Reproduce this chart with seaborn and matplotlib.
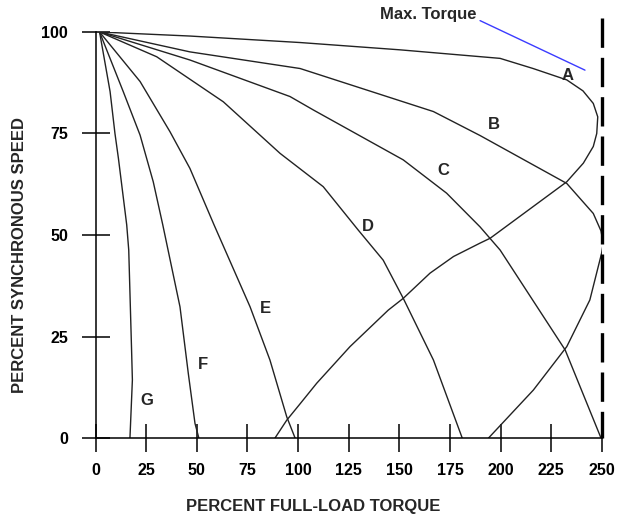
import matplotlib
matplotlib.use("Agg")
import matplotlib.pyplot as plt
import seaborn as sns
import pandas as pd

# ---- data (percent full-load torque vs percent synchronous speed)
torque_A = [2, 46.6, 101, 150.4, 199.7, 216, 232.6, 240.6, 245.7, 247.9, 247.4, 245.7, 240.8, 232.6, 194.8, 189.8, 176.7, 165.1, 151.9, 144.5, 125.6, 109.2, 101.1, 94.4, 88.6]
speed_A = [100, 99.0, 97.4, 95.6, 93.5, 91.0, 88.2, 85.5, 82.4, 79.1, 75.0, 71.8, 67.7, 63.1, 49.2, 48.0, 44.7, 40.6, 34.4, 31.5, 22.5, 13.5, 8.5, 4.4, 0]

torque_B = [2, 46.6, 101, 166.8, 189.8, 232.6, 245.7, 249.5, 250.6, 249.8, 244, 232.6, 216.1, 194]
speed_B = [100, 95.1, 91.0, 80.4, 74.5, 62.7, 55.3, 51.0, 48.0, 45.5, 34.0, 22.5, 11.8, 0]

torque_C = [2, 46.6, 96, 107.5, 151.9, 173.3, 189.8, 199.7, 231.8, 249.5]
speed_C = [100, 93.1, 84.1, 80.8, 68.5, 60.3, 52.0, 46.3, 21.7, 0]

torque_D = [2, 30.2, 63.1, 91.1, 112.4, 129.7, 142, 151.9, 166.8, 181]
speed_D = [100, 93.9, 82.8, 70.1, 61.9, 51.2, 43.8, 34.4, 19.2, 0]

torque_E = [2, 22, 36.8, 46.6, 58.5, 76.3, 86.1, 94.4, 98.5]
speed_E = [100, 87.8, 75.4, 66.4, 52.5, 32.3, 19.2, 5.2, 0]

torque_F = [2, 13.7, 22, 28.5, 33.2, 41.7, 45.8, 49.1, 51]
speed_F = [100, 85.3, 74.6, 63.1, 52.5, 32.3, 15.9, 3.6, 0]

torque_G = [2, 7.2, 9.6, 11.3, 15.4, 16.4, 17.8, 18.2, 17.0]
speed_G = [100, 85.3, 75.0, 68.9, 52.5, 46.3, 21.7, 14.3, 0]

curve_names = ["A", "B", "C", "D", "E", "F", "G"]
label_torque = [233.1, 196.8, 171.7, 134.2, 83.7, 52.9, 25.3]
label_speed = [89.4, 77.1, 65.8, 52.2, 31.9, 18.2, 9.2]

x_ticks = [0, 25, 50, 75, 100, 125, 150, 175, 200, 225, 250]
y_ticks = [0, 25, 50, 75, 100]
max_torque = 250
annot_text = "Max. Torque"

# ---- build long table
curves = {
    "A": (torque_A, speed_A), "B": (torque_B, speed_B), "C": (torque_C, speed_C),
    "D": (torque_D, speed_D), "E": (torque_E, speed_E), "F": (torque_F, speed_F),
    "G": (torque_G, speed_G),
}
rows = []
for name, (tx, sy) in curves.items():
    for i, (t, s) in enumerate(zip(tx, sy)):
        rows.append({"curve": name, "order": i, "torque": t, "speed": s})
df = pd.DataFrame(rows)

sns.set_style("white")
plt.rcParams["font.family"] = ["Liberation Sans", "DejaVu Sans"]
plt.rcParams["font.weight"] = "bold"

fig = plt.figure(figsize=(6.17, 5.15), dpi=100)
ax = fig.add_axes([0.1548, 0.1495, 0.8209, 0.7884])

sns.lineplot(data=df, x="torque", y="speed", units="curve", estimator=None,
             sort=False, color="#222222", linewidth=1.0, legend=False, ax=ax)

# max torque dashed line
ax.plot([max_torque, max_torque], [103.5, 0], color="black", lw=2.4,
        dashes=(8.8, 3.0), clip_on=False, solid_capstyle="butt")

# curve letters
for n, tx, sy in zip(curve_names, label_torque, label_speed):
    ax.text(tx, sy, n, fontsize=12, fontweight="bold", ha="center", va="center")

# annotation
ax.text(140.4, 104.4, annot_text, fontsize=12, fontweight="bold", ha="left",
        va="center", clip_on=False)
ax.plot([189.8, 241.6], [102.8, 90.6], color="#3b3bff", lw=1.0, clip_on=False)

ax.set_xlim(0, 250)
ax.set_ylim(0, 100)
ax.set_xticks(x_ticks)
ax.set_yticks(y_ticks)
ax.set_xticklabels([str(v) for v in x_ticks])
ax.set_yticklabels([str(v) for v in y_ticks])

for side in ["top", "right"]:
    ax.spines[side].set_visible(False)
for side in ["left", "bottom"]:
    ax.spines[side].set_color("black")
    ax.spines[side].set_linewidth(1.1)

ax.tick_params(axis="both", which="major", bottom=True, left=True,
               direction="inout", length=20, width=1.1,
               color="black", labelsize=11.5, labelcolor="black")
ax.tick_params(axis="x", pad=8)
ax.tick_params(axis="y", pad=9.8)

ax.set_xlabel("PERCENT FULL-LOAD TORQUE", fontsize=12, fontweight="bold")
ax.set_ylabel("PERCENT SYNCHRONOUS SPEED", fontsize=12, fontweight="bold")
ax.xaxis.set_label_coords(0.43, -0.150)
ax.yaxis.set_label_coords(-0.135, 0.45)

fig.savefig("out.png", dpi=100)
